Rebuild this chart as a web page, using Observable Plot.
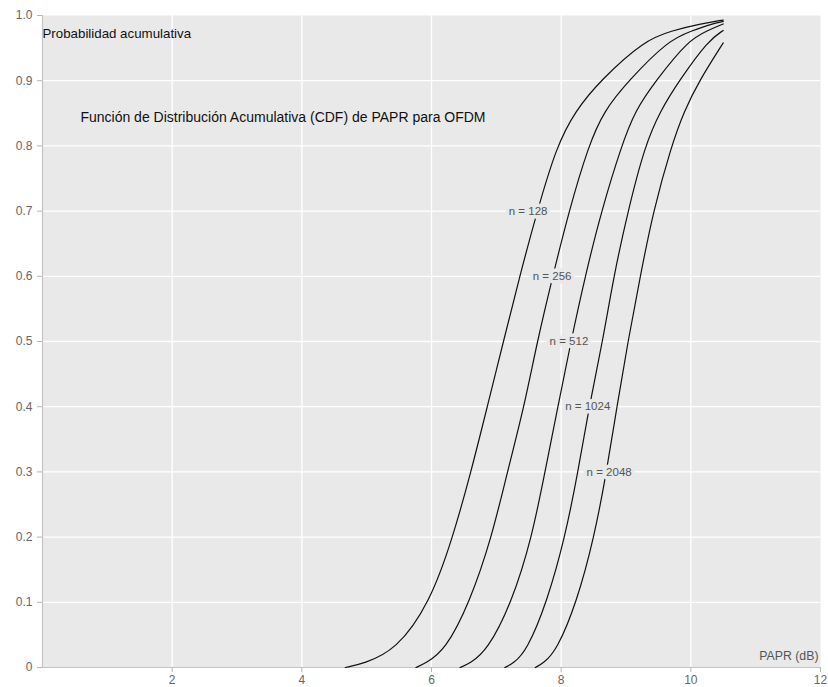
<!DOCTYPE html>
<html><head><meta charset="utf-8">
<script src="https://cdn.jsdelivr.net/npm/d3@7"></script>
<script src="https://cdn.jsdelivr.net/npm/@observablehq/plot@0.6"></script>
<style>body{margin:0;background:#fff;} #chart svg{display:block;}</style>
</head><body><div id="chart"></div>
<script>
// Subcarrier counts
const subcarriers = [128, 256, 512, 1024, 2048];

// PAPR (dB) / cumulative probability
const papr128 = [4.67, 4.95, 5.45, 5.98, 6.33, 6.61, 6.86, 7.11, 7.36, 7.63, 7.93, 8.22, 8.60, 9.28, 9.72, 10.14, 10.5];
const cdf128  = [0, 0.006, 0.026, 0.1, 0.2, 0.3, 0.4, 0.5, 0.6, 0.7, 0.8, 0.854, 0.9, 0.962, 0.977, 0.987, 0.993];

const papr256 = [5.76, 5.90, 6.21, 6.59, 6.93, 7.17, 7.43, 7.63, 7.87, 8.12, 8.42, 8.66, 9.04, 9.65, 10.03, 10.32, 10.5];
const cdf256  = [0, 0.006, 0.026, 0.1, 0.2, 0.3, 0.4, 0.5, 0.6, 0.7, 0.8, 0.854, 0.9, 0.962, 0.977, 0.987, 0.991];

const papr512 = [6.44, 6.59, 6.86, 7.24, 7.55, 7.75, 7.95, 8.15, 8.37, 8.62, 8.93, 9.14, 9.46, 9.96, 10.26, 10.5];
const cdf512  = [0, 0.006, 0.026, 0.1, 0.2, 0.3, 0.4, 0.5, 0.6, 0.7, 0.8, 0.854, 0.9, 0.962, 0.977, 0.987];

const papr1024 = [7.13, 7.26, 7.47, 7.78, 8.06, 8.26, 8.43, 8.64, 8.81, 9.03, 9.29, 9.53, 9.82, 10.27, 10.5];
const cdf1024  = [0, 0.006, 0.026, 0.1, 0.2, 0.3, 0.4, 0.5, 0.6, 0.7, 0.8, 0.854, 0.9, 0.962, 0.977];

const papr2048 = [7.60, 7.72, 7.93, 8.24, 8.51, 8.70, 8.86, 9.03, 9.22, 9.42, 9.70, 9.90, 10.13, 10.5];
const cdf2048  = [0, 0.006, 0.026, 0.1, 0.2, 0.3, 0.4, 0.5, 0.6, 0.7, 0.8, 0.854, 0.9, 0.958];

// Curve labels
const labelText = ["n = 128", "n = 256", "n = 512", "n = 1024", "n = 2048"];
const labelX = [7.49, 7.86, 8.12, 8.41, 8.74];
const labelY = [0.70, 0.60, 0.50, 0.40, 0.30];

// Axis ticks
const xTicks = [2, 4, 6, 8, 10, 12];
const xGrid = [2, 4, 6, 8, 10];
const yTicks = [0, 0.1, 0.2, 0.3, 0.4, 0.5, 0.6, 0.7, 0.8, 0.9, 1.0];

// Texts
const yTitle = "Probabilidad acumulativa";
const chartTitle = "Función de Distribución Acumulativa (CDF) de PAPR para OFDM";
const xTitle = "PAPR (dB)";

const seriesX = [papr128, papr256, papr512, papr1024, papr2048];
const seriesY = [cdf128, cdf256, cdf512, cdf1024, cdf2048];
const rows = [];
subcarriers.forEach((n, i) => seriesX[i].forEach((v, j) => rows.push({n, papr: v, cdf: seriesY[i][j]})));
const labels = labelText.map((t, i) => ({t, x: labelX[i], y: labelY[i]}));

const panel = "#e9e9e9";
const chart = Plot.plot({
  width: 828, height: 687,
  marginLeft: 42, marginRight: 8, marginTop: 15, marginBottom: 20,
  style: {fontFamily: "'Liberation Sans', Arial, sans-serif", fontSize: "12px", background: "#fff", overflow: "visible"},
  x: {domain: [0, 12], label: null},
  y: {domain: [0, 1], label: null},
  marks: [
    Plot.frame({fill: panel, stroke: null}),
    Plot.gridX(xGrid, {stroke: "#fff", strokeOpacity: 1, strokeWidth: 1.3}),
    Plot.gridY(yTicks.slice(1, -1), {stroke: "#fff", strokeOpacity: 1, strokeWidth: 1.3}),
    Plot.ruleX([0], {stroke: "#c4c4c4", strokeWidth: 1.2}),
    Plot.ruleY([0], {stroke: "#c4c4c4", strokeWidth: 1.2}),
    Plot.axisX(xTicks, {tickSize: 5, tickPadding: 3, stroke: "#b5b5b5", fill: "#666", label: null, fontSize: 12}),
    Plot.axisY(yTicks, {tickSize: 5, tickPadding: 5, stroke: "#b5b5b5", fill: "#666", label: null, fontSize: 12,
      tickFormat: d => d === 0 ? "0" : d.toFixed(1)}),
    Plot.line(rows, {x: "papr", y: "cdf", z: "n", stroke: "#111", strokeWidth: 1.2, curve: "basis"}),
    Plot.text(labels, {x: "x", y: "y", text: "t", fill: "#555", stroke: panel, strokeWidth: 7, fontSize: 11.5}),
    Plot.text([yTitle], {x: 0, y: 0.972, text: d => d, textAnchor: "start", fill: "#111", fontSize: 13.3}),
    Plot.text([chartTitle], {x: 0.585, y: 0.844, text: d => d, textAnchor: "start", fill: "#111", fontSize: 14}),
    Plot.text([xTitle], {x: 12, y: 0.018, text: d => d, textAnchor: "end", dx: -2, fill: "#555", fontSize: 12.3})
  ]
});
document.getElementById("chart").append(chart);
</script>
</body></html>
